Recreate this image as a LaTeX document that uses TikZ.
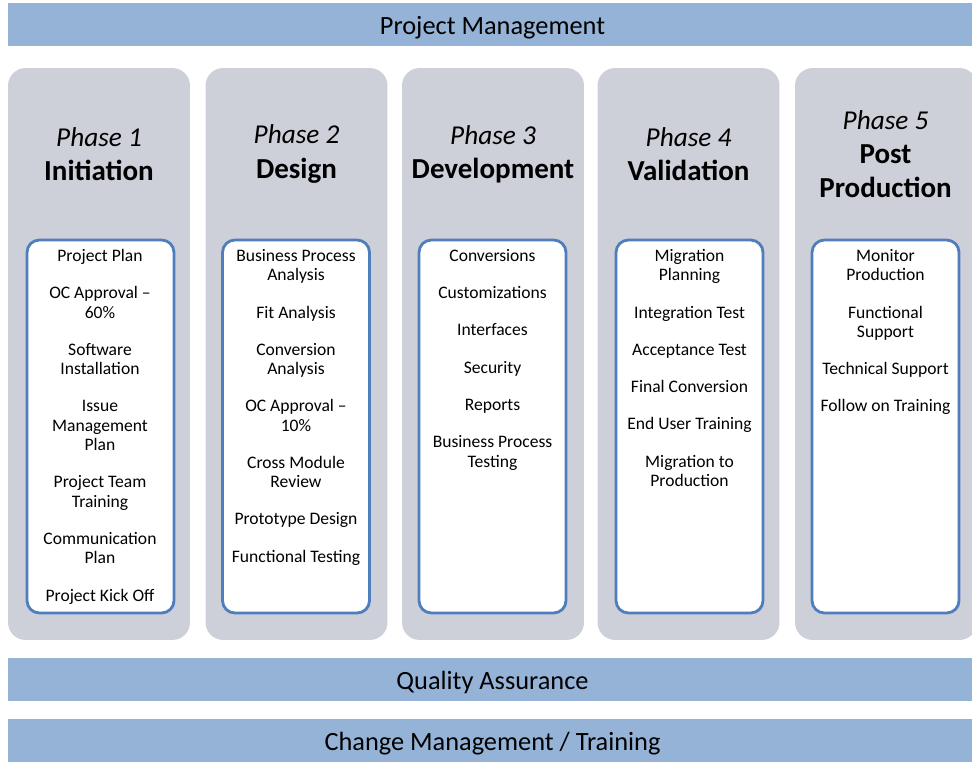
\documentclass[tikz,border=0pt]{standalone}
\usepackage{fontspec}
\setmainfont{Carlito}
\usepackage{tikz}

\definecolor{barblue}{HTML}{95B3D7}
\definecolor{colgray}{HTML}{CDCFD9}
\definecolor{boxblue}{HTML}{4F7EBD}

\tikzset{
	bar/.style={fill=barblue, minimum width=19.38cm, minimum height=0.86cm, inner sep=0pt, text height=12.5pt, text depth=1.5pt, font=\fontsize{15}{18}\selectfont},
	phasecol/.style={fill=colgray, rounded corners=10pt, minimum width=3.64cm, minimum height=11.44cm, inner sep=0pt},
	taskbox/.style={draw=boxblue, line width=1.6pt, fill=white, rounded corners=7pt, minimum width=2.94cm, minimum height=7.46cm, inner sep=0pt},
	phasehead/.style={align=center, font=\fontsize{16.5}{19.5}\selectfont},
	tasklist/.style={align=center, anchor=north, inner sep=0pt, font=\fontsize{10}{11}\selectfont}
}
\newcommand{\phasenum}[1]{{\fontsize{15.5}{19.5}\selectfont\itshape #1}}

\begin{document}
\begin{tikzpicture}[x=0.02cm, y=-0.02cm]
	\clip (0, 0) rectangle (972, 761);

	% bars across the phases
	\node[bar] (pm) at (492.5, 24.5) {Project Management};
	\node[bar] (qa) at (492.5, 679.5) {Quality Assurance};
	\node[bar] (cm) at (492.5, 740.5) {Change Management / Training};

	% phase columns
	\node[phasecol] (col1) at (99, 354) {};
	\node[phasecol] (col2) at (296.5, 354) {};
	\node[phasecol] (col3) at (493, 354) {};
	\node[phasecol] (col4) at (688.5, 354) {};
	\node[phasecol] (col5) at (886, 354) {};

	\node[phasehead] (head1) at (99, 154) {\phasenum{Phase 1}\\\textbf{Initiation}};
	\node[phasehead] (head2) at (296.5, 154) {\phasenum{Phase 2}\\\textbf{Design}};
	\node[phasehead] (head3) at (493, 154) {\phasenum{Phase 3}\\\textbf{Development}};
	\node[phasehead] (head4) at (688.5, 154) {\phasenum{Phase 4}\\\textbf{Validation}};
	\node[phasehead] (head5) at (885.5, 154) {\phasenum{Phase 5}\\\textbf{Post}\\\textbf{Production}};

	% task boxes
	\node[taskbox] (box1) at (100.5, 426.5) {};
	\node[taskbox] (box2) at (296, 426.5) {};
	\node[taskbox] (box3) at (492.5, 426.5) {};
	\node[taskbox] (box4) at (689.5, 426.5) {};
	\node[taskbox] (box5) at (885.5, 426.5) {};

	\node[tasklist] (list1) at (100, 249) {Project Plan\\[10.2pt]OC Approval --\\60\%\\[10.2pt]Software\\Installation\\[10.2pt]Issue\\Management\\Plan\\[10.2pt]Project Team\\Training\\[10.2pt]Communication\\Plan\\[10.2pt]Project Kick Off};
	\node[tasklist] (list2) at (296, 249) {Business Process\\Analysis\\[10.2pt]Fit Analysis\\[10.2pt]Conversion\\Analysis\\[10.2pt]OC Approval --\\10\%\\[10.2pt]Cross Module\\Review\\[10.2pt]Prototype Design\\[10.2pt]Functional Testing};
	\node[tasklist] (list3) at (492.5, 249) {Conversions\\[10.2pt]Customizations\\[10.2pt]Interfaces\\[10.2pt]Security\\[10.2pt]Reports\\[10.2pt]Business Process\\Testing};
	\node[tasklist] (list4) at (689.5, 249) {Migration\\Planning\\[10.2pt]Integration Test\\[10.2pt]Acceptance Test\\[10.2pt]Final Conversion\\[10.2pt]End User Training\\[10.2pt]Migration to\\Production};
	\node[tasklist] (list5) at (885.5, 249) {Monitor\\Production\\[10.2pt]Functional\\Support\\[10.2pt]Technical Support\\[10.2pt]Follow on Training};

\end{tikzpicture}
\end{document}
